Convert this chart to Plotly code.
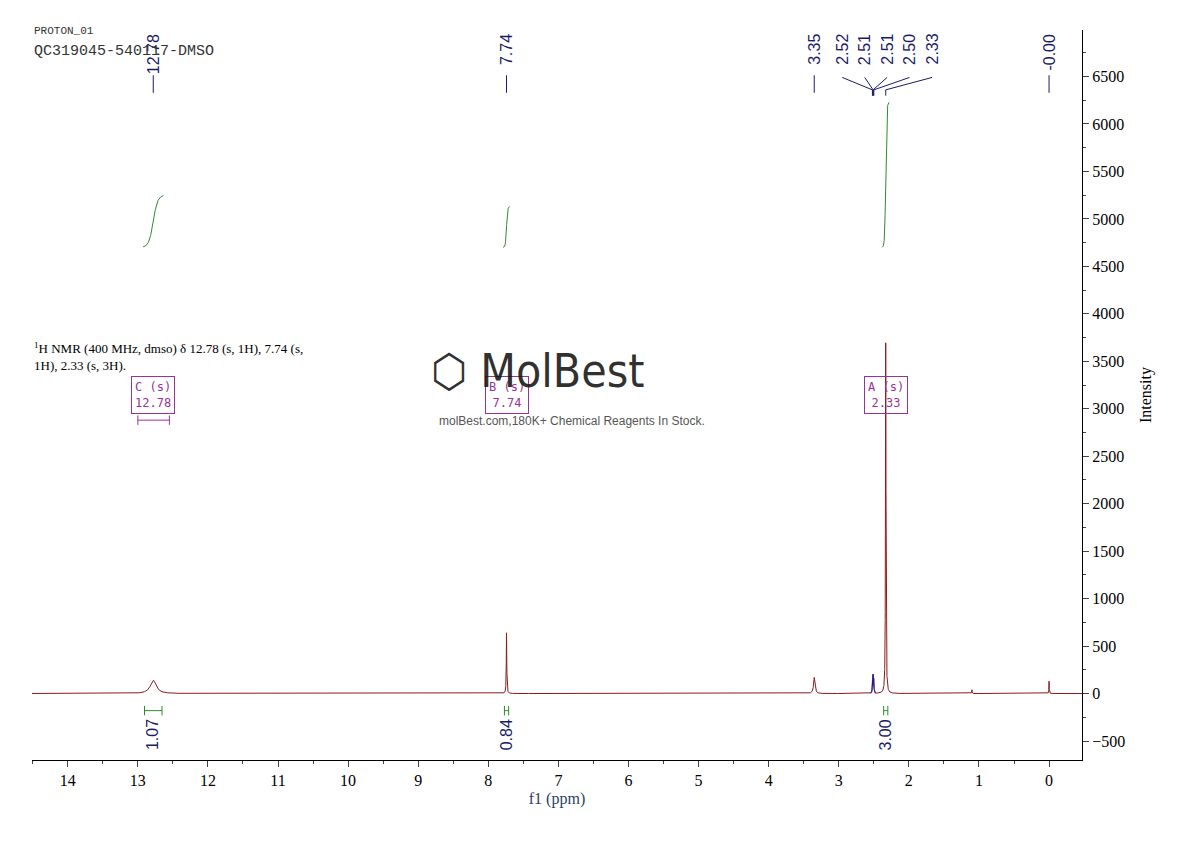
import numpy as np
import plotly.graph_objects as go

# peaks: position (ppm), height, half width (ppm)
peak_ppm = [12.78, 7.74, 3.35, 2.52, 2.51, 2.50, 2.33, 0.00, 1.10]
peak_h = [140, 640, 170, 120, 180, 140, 3700, 130, 40]
peak_w = [0.05, 0.004, 0.012, 0.003, 0.003, 0.003, 0.004, 0.003, 0.003]

shift_labels = ["12.78", "7.74", "3.35", "2.52", "2.51", "2.51", "2.50", "2.33", "-0.00"]
shift_pos = [12.78, 7.74, 3.35, 2.52, 2.51, 2.51, 2.50, 2.33, 0.00]
label_pos = [12.78, 7.74, 3.35, 2.95, 2.63, 2.31, 1.99, 1.67, 0.00]

integ_ppm = [12.78, 7.74, 2.33]
integ_val = ["1.07", "0.84", "3.00"]
integ_span = [0.25, 0.06, 0.06]
integ_top = [5250, 5130, 6230]

multiplets = [("C (s)", "12.78", 12.78), ("B (s)", "7.74", 7.74), ("A (s)", "2.33", 2.33)]

x = np.linspace(14.6, -0.6, 30000)
y = np.zeros_like(x)
for p, h, w in zip(peak_ppm, peak_h, peak_w):
    y += h * w**2 / ((x - p)**2 + w**2)

serif = "Liberation Serif"
navy = "#1a1a6a"
fig = go.Figure()
fig.add_trace(go.Scatter(x=x, y=y, mode="lines", line=dict(color="#8b1a1a", width=1), hoverinfo="skip"))
blue = (x > 2.47) & (x < 2.55)
fig.add_trace(go.Scatter(x=x[blue], y=y[blue], mode="lines", line=dict(color="#1a1a9a", width=1)))

# integral curves and brackets
for p, s, t, v in zip(integ_ppm, integ_span, integ_top, integ_val):
    xi = np.linspace(p + s / 2 + 0.02, p - s / 2 - 0.02, 80)
    yi = 4700 + (t - 4700) / (1 + np.exp(-(p - xi) / (s / 8)))
    fig.add_trace(go.Scatter(x=xi, y=yi, mode="lines", line=dict(color="#2e8b2e", width=1)))
    fig.add_trace(go.Scatter(x=[p + s / 2, p - s / 2], y=[-180, -180], mode="lines",
                             line=dict(color="#2e8b2e", width=1)))
    for e in (p + s / 2, p - s / 2):
        fig.add_shape(type="line", x0=e, x1=e, y0=-130, y1=-230, line=dict(color="#2e8b2e", width=1))
    fig.add_annotation(x=p, y=-250, text=v, textangle=-90, showarrow=False,
                       yanchor="top", font=dict(family="Liberation Sans", size=16, color=navy))

# multiplet boxes
for name, val, p in multiplets:
    fig.add_annotation(x=p, y=3150, text=name + "<br>" + val, showarrow=False, bordercolor="#993399",
                       borderwidth=1, borderpad=3, bgcolor="rgba(255,255,255,0)",
                       font=dict(family="DejaVu Sans Mono", size=12, color="#993399"))
fig.add_shape(type="line", x0=13.0, x1=12.55, y0=2880, y1=2880, line=dict(color="#993399", width=1))
for e in (13.0, 12.55):
    fig.add_shape(type="line", x0=e, x1=e, y0=2830, y1=2930, line=dict(color="#993399", width=1))

# top peak labels
for lx, lab in zip(label_pos, shift_labels):
    fig.add_annotation(x=lx, y=1.0, yref="paper", text=lab, textangle=-90, showarrow=False, yanchor="top",
                       yshift=-2, font=dict(family="Liberation Sans", size=16, color=navy))
for lx in [12.78, 7.74, 3.35, 0.00]:
    fig.add_shape(type="line", x0=lx, x1=lx, yref="paper", y0=0.914, y1=0.938, line=dict(color=navy, width=1))
for lx, sp in zip(label_pos[3:8], shift_pos[3:8]):
    fig.add_shape(type="line", x0=lx, x1=sp, yref="paper", y0=0.935, y1=0.918, line=dict(color=navy, width=1))
    fig.add_shape(type="line", x0=sp, x1=sp, yref="paper", y0=0.918, y1=0.91, line=dict(color=navy, width=1))

fig.add_annotation(x=0.0, y=1.01, xref="paper", yref="paper", text="PROTON_01", showarrow=False,
                   xanchor="left", yanchor="top", font=dict(family="Liberation Mono", size=11, color="#333"))
fig.add_annotation(x=0.0, y=0.985, xref="paper", yref="paper", text="QC319045-540117-DMSO", showarrow=False,
                   xanchor="left", yanchor="top", font=dict(family="Liberation Mono", size=15, color="#333"))
fig.add_annotation(x=0.0, y=0.578, xref="paper", yref="paper",
                   text="<sup>1</sup>H NMR (400 MHz, dmso) δ 12.78 (s, 1H), 7.74 (s,<br>1H), 2.33 (s, 3H).",
                   showarrow=False, xanchor="left", yanchor="top", align="left",
                   font=dict(family=serif, size=13, color="black"))
fig.add_annotation(x=7.3, y=3400, text="⬡ MolBest", showarrow=False,
                   font=dict(family="DejaVu Sans Condensed", size=46, color="rgba(20,20,20,0.9)"))
fig.add_annotation(x=6.8, y=2870, text="molBest.com,180K+ Chemical Reagents In Stock.", showarrow=False,
                   font=dict(family="Liberation Sans", size=12, color="#555"))

fig.update_layout(
    width=1190, height=841, showlegend=False, plot_bgcolor="white", paper_bgcolor="white",
    margin=dict(l=24, r=116, t=22, b=89),
    xaxis=dict(range=[14.51, -0.47], tickvals=list(range(15)), ticks="outside", ticklen=6, automargin=False,
               showgrid=False, zeroline=False, showline=True, linecolor="black",
               minor=dict(dtick=0.5, ticks="outside", ticklen=3),
               title=dict(text="f1 (ppm)", font=dict(family=serif, size=16), standoff=4),
               tickfont=dict(family=serif, size=16, color="black")),
    yaxis=dict(range=[-700, 6990], side="right", dtick=500, ticks="outside", ticklen=6, automargin=False,
               showgrid=False, zeroline=False, showline=True, linecolor="black",
               minor=dict(dtick=250, ticks="outside", ticklen=3),
               title=dict(text="Intensity", font=dict(family=serif, size=16, color="black")),
               tickfont=dict(family=serif, size=16, color="black")),
)
fig.write_html("out.html")
